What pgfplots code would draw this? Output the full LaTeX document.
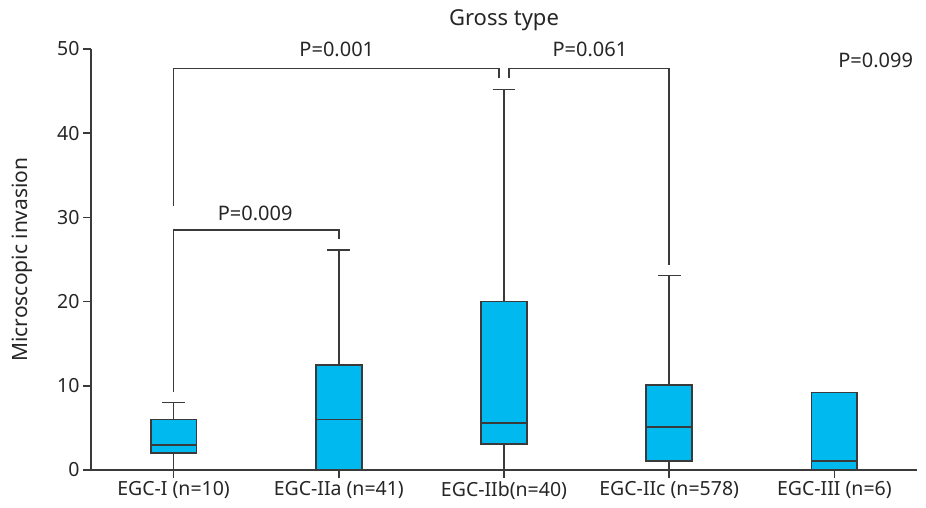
\documentclass[border=0pt]{standalone}
\usepackage{pgfplots}
\pgfplotsset{compat=1.18}
\usepgfplotslibrary{statistics}
\usepackage{fontspec}
\setmainfont{Noto Sans}
\definecolor{boxfill}{HTML}{00B9EF}
\definecolor{linegray}{HTML}{3A3A3A}
\newcommand{\lbl}{\fontsize{19.5}{22}\selectfont}
\newcommand{\plbl}{\fontsize{20}{23}\selectfont}
\begin{document}
\begin{tikzpicture}
    \path[use as bounding box] (-91pt,-38pt) rectangle (835pt,470pt);
    \begin{axis}[
            scale only axis,
            width=826pt, height=421pt,
            xmin=-0.5, xmax=4.5,
            ymin=0, ymax=50,
            axis x line=bottom, axis y line=left,
            axis line style={-, linegray, line width=1.6pt},
            every tick/.style={linegray, line width=1.6pt},
            tick align=outside,
            major tick length=8pt,
            xtick={0,1,2,3,4},
            xticklabels={EGC-I (n=10),EGC-IIa (n=41),EGC-IIb(n=40),EGC-IIc (n=578),EGC-III (n=6)},
            ytick={0,10,20,30,40,50},
            ticklabel style={font=\lbl, text=black!85},
            /pgf/number format/assume math mode=true,
            ylabel={Microscopic invasion},
            every axis y label/.style={at={(axis description cs:-0.0835,0.5)}, rotate=90, anchor=center, font=\fontsize{21}{24}\selectfont, text=black!85},
            clip=false,
            boxplot/draw direction=y,
            boxplot/box extend=0.277,
            boxplot/whisker extend=0.137,
            boxplot/every box/.style={fill=boxfill, draw=linegray, line width=1.8pt},
            boxplot/every whisker/.style={draw=linegray, line width=1.6pt},
            boxplot/every median/.style={draw=linegray, line width=1.8pt},
        ]
        % --- boxes ---
        \addplot[boxplot prepared={draw position=0, lower whisker=0, lower quartile=2, median=3, upper quartile=6, upper whisker=8}] coordinates {};
        \addplot[boxplot prepared={draw position=1, lower whisker=0, lower quartile=0, median=6, upper quartile=12.5, upper whisker=26.1}] coordinates {};
        \addplot[boxplot prepared={draw position=2, lower whisker=0, lower quartile=3.05, median=5.6, upper quartile=20, upper whisker=45.2}] coordinates {};
        \addplot[boxplot prepared={draw position=3, lower whisker=0, lower quartile=1.03, median=5.14, upper quartile=10.1, upper whisker=23.1}] coordinates {};
        \addplot[boxplot prepared={draw position=4, lower whisker=0, lower quartile=0, median=1.1, upper quartile=9.2, upper whisker=9.2}] coordinates {};
        % --- significance brackets ---
        \addplot[linegray, line width=1.6pt, no markers] coordinates {(0,31.4) (0,47.7) (1.97,47.7) (1.97,46.5)};
        \addplot[linegray, line width=1.6pt, no markers] coordinates {(2.03,46.5) (2.03,47.7) (3,47.7) (3,24.3)};
        \addplot[linegray, line width=1.6pt, no markers] coordinates {(0,9.3) (0,28.5) (1,28.5) (1,27.4)};
        \node[font=\plbl, text=black!85] at (axis cs:0.988,49.9) {P=0.001};
        \node[font=\plbl, text=black!85] at (axis cs:2.52,49.9) {P=0.061};
        \node[font=\plbl, text=black!85] at (axis cs:4.25,48.7) {P=0.099};
        \node[font=\plbl, text=black!85] at (axis cs:0.494,30.5) {P=0.009};
        \node[font=\fontsize{22}{25}\selectfont, text=black!85] at (axis description cs:0.5,1.069) {Gross type};
    \end{axis}
\end{tikzpicture}
\end{document}
